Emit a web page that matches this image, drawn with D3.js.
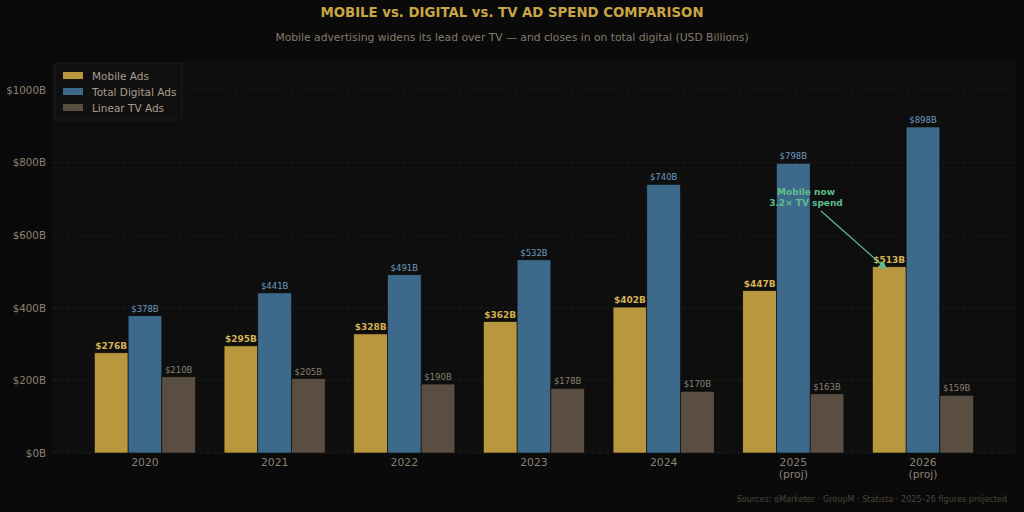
<!DOCTYPE html>
<html lang="en">
<head>
  <meta charset="UTF-8">
  <title>Mobile vs Digital vs TV Ad Spend</title>
  <style>
    body, html {
      margin: 0;
      padding: 0;
      background: #0a0a0a;
    }
    svg text {
      font-family: "DejaVu Sans", sans-serif;
    }
  </style>
</head>
<body>
  <svg id="svg" width="1024" height="512"></svg>

  <script src="https://d3js.org/d3.v7.min.js"></script>
  <script>
    // data
    const years = ['2020', '2021', '2022', '2023', '2024', '2025', '2026']
    const projected = [false, false, false, false, false, true, true]
    const mobileAds = [276, 295, 328, 362, 402, 447, 513]
    const digitalAds = [378, 441, 491, 532, 740, 798, 898]
    const tvAds = [210, 205, 190, 178, 170, 163, 159]
    const yTicks = [0, 200, 400, 600, 800, 1000]

    const series = [
      { name: 'Mobile Ads', values: mobileAds, fill: '#b8973f', label: '#d4b054', bold: true },
      { name: 'Total Digital Ads', values: digitalAds, fill: '#3d6a8a', label: '#6b9cc0', bold: false },
      { name: 'Linear TV Ads', values: tvAds, fill: '#5a4d41', label: '#8a8072', bold: false }
    ]

    const svg = d3.select('#svg')
    const W = 1024, H = 512
    const plot = { left: 52, right: 1017, top: 62, bottom: 453 }

    svg.append('rect').attr('width', W).attr('height', H).attr('fill', '#0a0a0a')
    svg.append('rect')
      .attr('x', plot.left).attr('y', plot.top)
      .attr('width', plot.right - plot.left).attr('height', plot.bottom - plot.top)
      .attr('fill', '#0e0e0e')

    // scales
    const xscale = d3.scaleLinear()
      .domain([-0.717, 6.725])
      .range([plot.left, plot.right])
    const yscale = d3.scaleLinear()
      .domain([0, 1077])
      .range([plot.bottom, plot.top])
    const barW = 0.26

    // grid lines
    svg.append('g')
      .selectAll('line')
      .data(yTicks)
      .join('line')
      .attr('x1', plot.left).attr('x2', plot.right)
      .attr('y1', d => yscale(d)).attr('y2', d => yscale(d))
      .attr('stroke', '#222222')
      .attr('stroke-width', 0.8)
      .attr('stroke-dasharray', '4,3')

    // y axis
    const yAxis = d3.axisLeft(yscale)
      .tickValues(yTicks)
      .tickFormat(d => '$' + d + 'B')
      .tickSize(0)
      .tickPadding(6)
    const yg = svg.append('g').attr('transform', `translate(${plot.left},0)`).call(yAxis)
    yg.select('.domain').remove()
    yg.selectAll('text').attr('fill', '#8a8072').attr('font-size', 10.3)

    // bars
    series.forEach((s, si) => {
      const offset = (si - 1) * barW
      const g = svg.append('g')
      g.selectAll('rect')
        .data(s.values)
        .join('rect')
        .attr('x', (d, i) => xscale(i + offset - barW / 2))
        .attr('width', xscale(barW) - xscale(0))
        .attr('y', d => yscale(d))
        .attr('height', d => yscale(0) - yscale(d))
        .attr('fill', s.fill)
        .attr('stroke', '#0a0a0a')
        .attr('stroke-width', 0.6)
      g.selectAll('text')
        .data(s.values)
        .join('text')
        .attr('x', (d, i) => xscale(i + offset))
        .attr('y', d => yscale(d) - 4)
        .attr('text-anchor', 'middle')
        .attr('font-size', s.bold ? 9 : 8.5)
        .attr('font-weight', s.bold ? 'bold' : 'normal')
        .attr('fill', s.label)
        .text(d => '$' + d + 'B')
    })

    // x tick labels
    const xg = svg.append('g')
    years.forEach((yr, i) => {
      const t = xg.append('text')
        .attr('x', xscale(i))
        .attr('y', 466)
        .attr('text-anchor', 'middle')
        .attr('font-size', 10.8)
        .attr('fill', '#8a8072')
      t.append('tspan').attr('x', xscale(i)).text(yr)
      if (projected[i]) {
        t.append('tspan').attr('x', xscale(i)).attr('dy', 12).text('(proj)')
      }
    })

    // annotation
    const lastIdx = years.length - 1
    const tipX = xscale(lastIdx - barW) - 3
    const tipY = yscale(mobileAds[lastIdx]) + 2
    svg.append('defs').append('marker')
      .attr('id', 'arrow')
      .attr('viewBox', '0 0 10 10')
      .attr('refX', 9).attr('refY', 5)
      .attr('markerWidth', 7).attr('markerHeight', 7)
      .attr('orient', 'auto')
      .append('path')
      .attr('d', 'M0,0 L10,5 L0,10 z')
      .attr('fill', '#5fbf8c')
    svg.append('line')
      .attr('x1', 821).attr('y1', 211)
      .attr('x2', tipX).attr('y2', tipY)
      .attr('stroke', '#5fbf8c')
      .attr('stroke-width', 1.2)
      .attr('marker-end', 'url(#arrow)')
    const ann = svg.append('text')
      .attr('x', 806).attr('y', 195)
      .attr('text-anchor', 'middle')
      .attr('font-size', 9)
      .attr('font-weight', 'bold')
      .attr('fill', '#5fbf8c')
    ann.append('tspan').attr('x', 806).text('Mobile now')
    ann.append('tspan').attr('x', 806).attr('dy', 11).text('3.2\u00d7 TV spend')

    // legend
    const lg = svg.append('g').attr('transform', 'translate(55,63)')
    lg.append('rect')
      .attr('width', 127).attr('height', 57)
      .attr('rx', 2)
      .attr('fill', '#101010')
      .attr('stroke', '#1c1c1c')
    series.forEach((s, i) => {
      lg.append('rect')
        .attr('x', 8).attr('y', 9 + i * 16)
        .attr('width', 20).attr('height', 7)
        .attr('fill', s.fill)
      lg.append('text')
        .attr('x', 37).attr('y', 17 + i * 16)
        .attr('font-size', 10.5)
        .attr('fill', '#a89d8c')
        .text(s.name)
    })

    // titles
    svg.append('text')
      .attr('x', W / 2).attr('y', 17)
      .attr('text-anchor', 'middle')
      .attr('font-size', 13.3)
      .attr('font-weight', 'bold')
      .attr('fill', '#c9a546')
      .text('MOBILE vs. DIGITAL vs. TV AD SPEND COMPARISON')
    svg.append('text')
      .attr('x', W / 2).attr('y', 41)
      .attr('text-anchor', 'middle')
      .attr('font-size', 10.75)
      .attr('fill', '#857b6c')
      .text('Mobile advertising widens its lead over TV \u2014 and closes in on total digital (USD Billions)')

    svg.append('text')
      .attr('x', 1007).attr('y', 502)
      .attr('text-anchor', 'end')
      .attr('font-size', 8.1)
      .attr('fill', '#4a443b')
      .text('Sources: eMarketer \u00b7 GroupM \u00b7 Statista \u00b7 2025\u201326 figures projected')
  </script>
</body>
</html>
